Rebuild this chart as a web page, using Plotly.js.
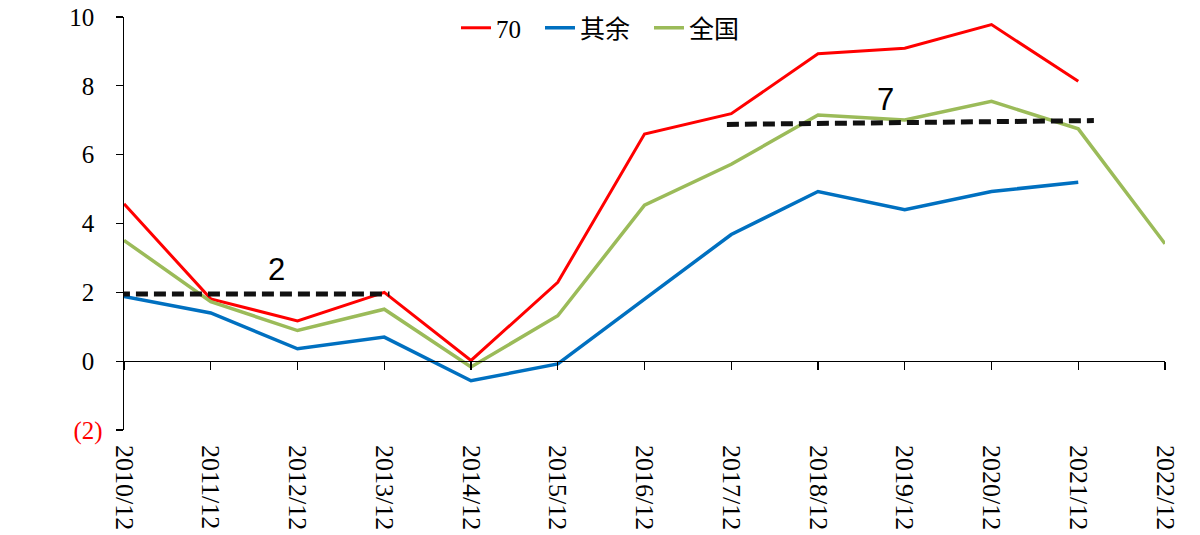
<!DOCTYPE html>
<html>
<head>
<meta charset="utf-8">
<script src="https://cdn.plot.ly/plotly-3.0.1.min.js"></script>
<style>html,body{margin:0;padding:0;background:#fff;}#chart{width:1200px;height:535px;}</style>
</head>
<body>
<div id="chart"></div>
<script>
// ---- data ----
const categories = ['2010/12','2011/12','2012/12','2013/12','2014/12','2015/12','2016/12','2017/12','2018/12','2019/12','2020/12','2021/12','2022/12'];
const series70   = [4.57, 1.81, 1.17, 2.00, 0.02, 2.29, 6.60, 7.19, 8.93, 9.09, 9.78, 8.13, null];
const seriesRest = [1.88, 1.40, 0.36, 0.70, -0.57, -0.08, 1.80, 3.68, 4.93, 4.40, 4.93, 5.20, null];
const seriesAll  = [3.51, 1.73, 0.89, 1.51, -0.17, 1.32, 4.53, 5.72, 7.15, 7.01, 7.55, 6.75, 3.41];
const seriesNames = ['70', '其余', '全国'];
const yTickVals = [-2, 0, 2, 4, 6, 8, 10];
const yTickText = ['(2)', '0', '2', '4', '6', '8', '10'];
// average reference lines (category index units)
const avgLabels = ['2', '7'];
const avgStart  = [-0.07, 6.95];
const avgEnd    = [3.06, 11.18];
const avgYStart = [1.95, 6.88];
const avgYEnd   = [1.95, 6.99];
const avgLabelX = [1.76, 8.78];
const avgLabelY = [2.65, 7.6];

// ---- styles ----
const colors = ['#FF0000', '#0070C0', '#9BBB59'];
const widths = [3, 3.5, 3.5];
const legendX = [0.3189, 0.3996, 0.5043];
const legendIds = ['legend', 'legend2', 'legend3'];
const serif = 'Liberation Serif, Times New Roman, serif';
const legendFont = 'Liberation Serif, Noto Sans CJK SC, serif';

const allSeries = [series70, seriesRest, seriesAll];
const traces = allSeries.map((vals, i) => ({
  type: 'scatter', mode: 'lines',
  x: categories, y: vals, name: seriesNames[i],
  line: {color: colors[i], width: widths[i]},
  connectgaps: false, hoverinfo: 'skip',
  xaxis: 'x', yaxis: 'y', legend: legendIds[i]
}));

const ticktext = yTickText.map((t, i) => yTickVals[i] < 0
  ? "<span style='color:#FF0000'>" + t + "</span>"
  : t + "<span style='color:rgba(0,0,0,0)'>)</span>");

const shapes = avgLabels.map((_, i) => ({
  type: 'line', xref: 'x2', yref: 'y',
  x0: avgStart[i], x1: avgEnd[i], y0: avgYStart[i], y1: avgYEnd[i],
  line: {color: '#111111', width: 5, dash: '12px,6px'}, layer: 'above'
}));

const annotations = avgLabels.map((t, i) => ({
  xref: 'x2', yref: 'y', x: avgLabelX[i], y: avgLabelY[i], text: t,
  showarrow: false, font: {family: 'Liberation Sans, Arial, sans-serif', size: 31, color: '#000'},
  xanchor: 'center', yanchor: 'middle'
}));

const layout = {
  width: 1200, height: 535,
  margin: {l: 124, r: 35, t: 17, b: 105, autoexpand: false},
  paper_bgcolor: '#ffffff', plot_bgcolor: '#ffffff',
  showlegend: true,
  xaxis: {
    type: 'category', categoryorder: 'array', categoryarray: categories,
    range: [0, 12], showline: false, showgrid: false, zeroline: false,
    ticks: '', tickangle: 90, ticklabelstandoff: 14,
    tickfont: {family: serif, size: 26, color: '#000'}, fixedrange: true
  },
  xaxis2: {
    type: 'linear', overlaying: 'x', anchor: 'free', position: 2 / 12,
    range: [0, 12], tick0: 0, dtick: 1, showticklabels: false,
    showline: true, linecolor: '#000', linewidth: 1.3,
    ticks: 'outside', ticklen: 8, tickwidth: 1.3, tickcolor: '#000',
    showgrid: false, zeroline: false, fixedrange: true
  },
  yaxis: {
    range: [-2, 10], tickmode: 'array', tickvals: yTickVals, ticktext: ticktext,
    showline: true, linecolor: '#000', linewidth: 1.3,
    ticks: 'outside', ticklen: 7, tickwidth: 1.3, tickcolor: '#000',
    showgrid: false, zeroline: false, ticklabelstandoff: 8,
    tickfont: {family: serif, size: 25, color: '#000'}, fixedrange: true
  },
  shapes: shapes,
  annotations: annotations
};
legendIds.forEach((id, i) => {
  layout[id] = {orientation: 'h', x: legendX[i], xanchor: 'left', y: 1.029, yanchor: 'top',
                font: {family: legendFont, size: 25, color: '#000'}, bgcolor: 'rgba(0,0,0,0)'};
});

Plotly.newPlot('chart', traces, layout, {staticPlot: true, displayModeBar: false});
</script>
</body>
</html>
